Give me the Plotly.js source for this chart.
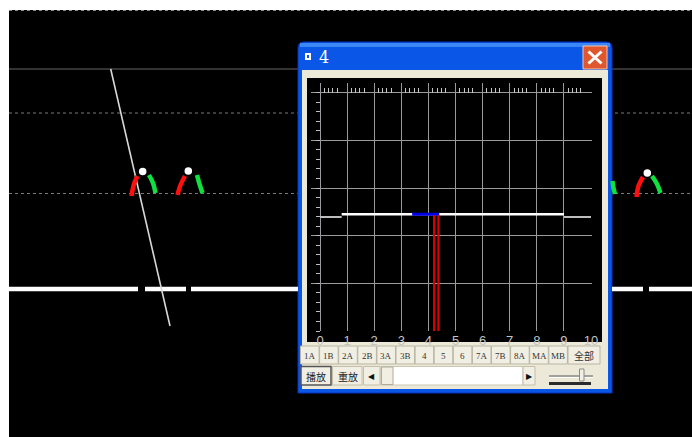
<!DOCTYPE html>
<html>
<head>
<meta charset="utf-8">
<script src="https://cdn.plot.ly/plotly-3.0.1.min.js"></script>
<style>html,body{margin:0;padding:0;background:#fff;}#chart{width:692px;height:437px;}</style>
</head>
<body>
<div id="chart"></div>
<script>
// ---------- chart data (inner window "4") ----------
const xTickVals = [0,1,2,3,4,5,6,7,8,9,10];
const xTickText = ['0','1','2','3','4','5','6','7','8','9','10'];
const yGridVals = [0,1,2,3,4,5];
const topMinorOffsets = [0.16,0.32,0.47,0.63];

const greyLeftX = [0, 0.8];   const greyLeftY = [2.39, 2.39];
const whiteX = [0.8, 9.0];    const whiteY = [2.45, 2.45];
const greyRightX = [9.0, 10]; const greyRightY = [2.39, 2.39];
const blueX = [3.4, 4.4];     const blueY = [2.45, 2.45];
const redX = [4.21, 4.21, null, 4.37, 4.37];
const redY = [2.43, 0, null, 2.43, 0];

const buttonLabels = ['1A','1B','2A','2B','3A','3B','4','5','6','7A','7B','8A','MA','MB'];
const allLabel = '全部';
const playLabel = '播放';
const replayLabel = '重放';
const windowTitle = '4';

// ---------- background scene (pixel space) ----------
const roadX = [9,138,null,145,186,null,191,298,null,612,643,null,649,692];
const roadY = [289,289,null,289,289,null,289,289,null,289,289,null,289,289];
const poleX = [110.7, 170];
const poleY = [69, 326];
const headX = [142.7, 188.3, 647.3];
const headY = [171.5, 171, 173];
const redLegX = [137.5,134,131.5,null,185,180.5,177.5,null,643,638.5,636.5];
const redLegY = [176,184,196,null,176,185,195,null,177,186,197];
const greenLegX = [149,153,155.5,null,197,199.5,202.5,null,652,657,660.5,null,612.5,613.5,615];
const greenLegY = [175,183,193,null,175,184,193,null,176,184,193,null,181,188,194];

const W = 692, H = 437;
const PX = x => x / W;
const PY = y => 1 - y / H;
function rect(x0,y0,x1,y1,fill,lc,lw){
  return {type:'rect',xref:'paper',yref:'paper',layer:'below',
    x0:PX(x0),x1:PX(x1),y0:PY(y1),y1:PY(y0),fillcolor:fill,
    line:{color:lc||fill,width:lw||0}};
}
function seg(x0,y0,x1,y1,color,width,dash){
  return {type:'line',xref:'paper',yref:'paper',layer:'below',
    x0:PX(x0),x1:PX(x1),y0:PY(y0),y1:PY(y1),
    line:{color:color,width:width,dash:dash||'solid'}};
}
function ann(x,y,text,size,color,family,extra){
  return Object.assign({xref:'paper',yref:'paper',x:PX(x),y:PY(y),text:text,showarrow:false,
    xanchor:'center',yanchor:'middle',font:{size:size,color:color,family:family}},extra||{});
}

const shapes = [];
const annotations = [];
// page background
shapes.push(rect(9,10,692,437,'#000000'));
shapes.push(seg(9,10.5,692,10.5,'#8a8a8a',1,'dot'));
shapes.push(seg(9,69,692,69,'#454545',1.5));
shapes.push(seg(9,113,692,113,'#7a7a7a',1,'dot'));
shapes.push(seg(9,193.5,692,193.5,'#7a7a7a',1,'dot'));

// window frame
shapes.push({type:'path',xref:'paper',yref:'paper',layer:'below',
  path:`M ${PX(298)} ${PY(393)} L ${PX(298)} ${PY(48)} Q ${PX(298)} ${PY(42)} ${PX(304)} ${PY(42)} L ${PX(606)} ${PY(42)} Q ${PX(612)} ${PY(42)} ${PX(612)} ${PY(48)} L ${PX(612)} ${PY(393)} Z`,
  fillcolor:'#0a56e6',line:{color:'#0733c4',width:1}});
shapes.push(rect(300,43,610,47,'#3b87f6'));
shapes.push(rect(302,70,608,389,'#ece9d8'));
shapes.push(rect(307,78,602,342,'#000000'));
// close button
shapes.push({type:'rect',xref:'paper',yref:'paper',layer:'below',x0:PX(583),x1:PX(607),y0:PY(69),y1:PY(46),
  fillcolor:'#e0562d',line:{color:'#f2c7b6',width:1}});
shapes.push(seg(588.5,51.5,601.5,63.5,'#ffffff',3));
shapes.push(seg(601.5,51.5,588.5,63.5,'#ffffff',3));
// icon
shapes.push(rect(305,53,311,60,'#ffffff'));
shapes.push(rect(307,55,309,58,'#0a56e6'));
annotations.push(ann(324,57,windowTitle,16,'#ffffff','DejaVu Serif'));

// button row 1
buttonLabels.forEach((lab,i)=>{
  const x0 = 300.5 + 19.1*i;
  shapes.push(rect(x0,346,x0+18.6,364,'#f1efe4','#b9b5a2',1));
  annotations.push(ann(x0+9.3,355.5,lab,9,'#333333','Liberation Serif'));
});
shapes.push(rect(568,346,600,364,'#f1efe4','#b9b5a2',1));
annotations.push(ann(584,355.5,allLabel,10,'#333333','Noto Sans CJK SC'));

// row 2
shapes.push(rect(301,366.5,331,385,'#f1efe4','#555555',1.5));
annotations.push(ann(316,376,playLabel,10,'#222222','Noto Sans CJK SC'));
shapes.push(rect(332.5,366.5,362,385,'#f1efe4','#c2bea9',1));
annotations.push(ann(347.5,376,replayLabel,10,'#222222','Noto Sans CJK SC'));
shapes.push(rect(363.5,366.5,380,385,'#f1efe4','#c2bea9',1));
annotations.push(ann(371.5,376,'◀',8,'#111111','DejaVu Sans'));
shapes.push(rect(381,366.5,523,385,'#ffffff','#c9c5b3',1));
shapes.push(rect(381.5,367,393,384.5,'#f1efe4','#b0ac98',1));
shapes.push(rect(523,366.5,535,385,'#f1efe4','#c2bea9',1));
annotations.push(ann(529,376,'▶',8,'#111111','DejaVu Sans'));
shapes.push(seg(549,376,593,376,'#8a8a8a',1.5));
shapes.push(seg(549,377.5,593,377.5,'#ffffff',1));
shapes.push(rect(579.5,369,584,381,'#f1efe4','#8a8a8a',1));
shapes.push(seg(549,383.5,591,383.5,'#2b2b2b',3));

const traces = [
  // inner chart
  {x:greyLeftX,y:greyLeftY,mode:'lines',line:{color:'#bdbdbd',width:2},xaxis:'x',yaxis:'y',hoverinfo:'skip'},
  {x:greyRightX,y:greyRightY,mode:'lines',line:{color:'#bdbdbd',width:2},xaxis:'x3',yaxis:'y',hoverinfo:'skip'},
  {x:whiteX,y:whiteY,mode:'lines',line:{color:'#ffffff',width:2.5},xaxis:'x',yaxis:'y',hoverinfo:'skip'},
  {x:blueX,y:blueY,mode:'lines',line:{color:'#0000e6',width:3},xaxis:'x',yaxis:'y',hoverinfo:'skip'},
  {x:redX,y:redY,mode:'lines',line:{color:'#d80000',width:2.2},xaxis:'x',yaxis:'y',hoverinfo:'skip'},
  // background scene
  {x:roadX,y:roadY,mode:'lines',line:{color:'#ffffff',width:4.5},xaxis:'x2',yaxis:'y2',hoverinfo:'skip'},
  {x:poleX,y:poleY,mode:'lines',line:{color:'#d8d8d8',width:1.6},xaxis:'x2',yaxis:'y2',hoverinfo:'skip'},
  {x:redLegX,y:redLegY,mode:'lines',line:{color:'#ff1010',width:4.5,shape:'spline'},xaxis:'x2',yaxis:'y2',hoverinfo:'skip'},
  {x:greenLegX,y:greenLegY,mode:'lines',line:{color:'#10e040',width:4.5,shape:'spline'},xaxis:'x2',yaxis:'y2',hoverinfo:'skip'},
  {x:headX,y:headY,mode:'markers',marker:{color:'#ffffff',size:7.5,symbol:'circle'},xaxis:'x2',yaxis:'y2',hoverinfo:'skip'}
];

const topTickVals = [];
for (let k = 0; k < 10; k++) topMinorOffsets.forEach(o => topTickVals.push(k + o));

const xr = [-0.332, 10.037];
const layout = {
  width: W, height: H,
  margin: {l:0,r:0,t:0,b:0,pad:0},
  paper_bgcolor: '#ffffff',
  plot_bgcolor: 'rgba(0,0,0,0)',
  showlegend: false,
  xaxis: {domain:[PX(311),PX(592)], range:xr, anchor:'y', tickmode:'array', tickvals:xTickVals, ticktext:xTickText,
    ticks:'', showgrid:true, gridcolor:'#9a9a9a', gridwidth:1, zeroline:false, showline:false,
    tickfont:{family:'Liberation Sans', size:13, color:'#c4c4c4'}, ticklabelstandoff:0, fixedrange:true},
  xaxis3: {overlaying:'x', anchor:'free', position:PY(92.7), side:'top', range:xr, tickmode:'array', tickvals:topTickVals,
    ticks:'outside', ticklen:5, tickwidth:1, tickcolor:'#c8c8c8', showticklabels:false, showgrid:false, zeroline:false, showline:false},
  yaxis: {domain:[PY(331),PY(83.2)], range:[0,5.199], anchor:'free', position:PX(320), tickmode:'array', tickvals:yGridVals,
    ticks:'outside', ticklen:4, tickcolor:'#bdbdbd', showticklabels:false, showgrid:true, gridcolor:'#9a9a9a', gridwidth:1,
    zeroline:false, showline:false,
    minor:{tickmode:'linear', tick0:0, dtick:0.2, ticks:'outside', ticklen:4, tickcolor:'#bdbdbd', showgrid:false}},
  xaxis2: {domain:[0,1], range:[0,W], anchor:'y2', visible:false, fixedrange:true},
  yaxis2: {domain:[0,1], range:[H,0], anchor:'x2', visible:false, fixedrange:true},
  shapes: shapes,
  annotations: annotations
};

Plotly.newPlot('chart', traces, layout, {staticPlot:true, displayModeBar:false});
</script>
</body>
</html>
